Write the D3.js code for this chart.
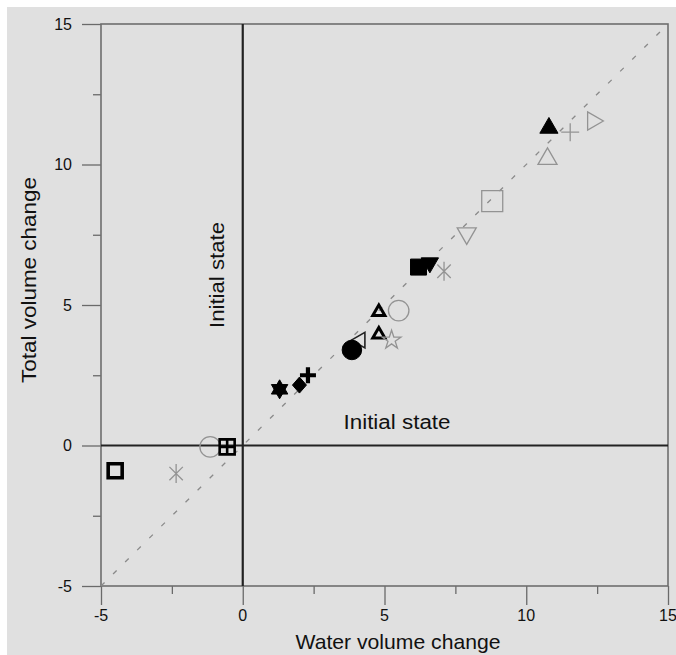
<!DOCTYPE html>
<html>
<head>
<meta charset="utf-8">
<script src="https://cdn.jsdelivr.net/npm/d3@7"></script>
<style>
  body { margin: 0; background: #fff; }
  svg { display: block; }
  text { font-family: "Liberation Sans", Arial, sans-serif; fill: #111; }
</style>
</head>
<body>
<div id="chart"></div>
<script>
// values
var waterChange = [-4.5, -2.35, -1.15, -0.55, 1.3, 2.0, 2.3, 4.15, 3.85, 4.8, 5.25, 4.8, 5.5, 6.2, 6.6, 7.1, 7.9, 8.8, 10.75, 10.8, 11.55, 12.35];
var totalChange = [-0.9, -1.0, -0.05, -0.05, 2.0, 2.15, 2.5, 3.75, 3.4, 3.95, 3.75, 4.75, 4.8, 6.35, 6.5, 6.2, 7.55, 8.7, 10.2, 11.3, 11.15, 11.55];
var markerKind = ["boldSquare", "grayAsterisk", "grayCircle", "squareCross", "hexagram", "diamond", "boldPlus", "leftTriangle", "dot",
  "boldTriangle", "grayStar", "boldTriangle", "grayCircle", "filledSquare", "filledDown", "grayAsterisk", "grayDown", "graySquare",
  "grayTriangle", "filledTriangle", "grayPlus", "grayRight"];
var axisTicks = [-5, 0, 5, 10, 15];
var minorTicks = [-2.5, 2.5, 7.5, 12.5];

var svgWidth = 676, svgHeight = 655;

var svg = d3.select("#chart").append("svg")
  .attr("width", svgWidth)
  .attr("height", svgHeight);

// scanned grey page
svg.append("rect")
  .attr("x", 7).attr("y", 7)
  .attr("width", svgWidth - 7).attr("height", svgHeight - 7)
  .attr("fill", "#e0e0e0");

var x = d3.scaleLinear().domain([-5, 15]).range([101, 668]);
var y = d3.scaleLinear().domain([-5, 15]).range([586, 24]);

// axes with long major ticks and short minor ticks
svg.append("g").attr("transform", "translate(0," + y(-5) + ")")
  .call(d3.axisBottom(x).tickValues(axisTicks).tickSize(19).tickFormat(""));
svg.append("g").attr("transform", "translate(0," + y(-5) + ")")
  .call(d3.axisBottom(x).tickValues(minorTicks).tickSize(8).tickFormat(""));
svg.append("g").attr("transform", "translate(" + x(-5) + ",0)")
  .call(d3.axisLeft(y).tickValues(axisTicks).tickSize(19).tickFormat(""));
svg.append("g").attr("transform", "translate(" + x(-5) + ",0)")
  .call(d3.axisLeft(y).tickValues(minorTicks).tickSize(8).tickFormat(""));

svg.selectAll(".domain").remove();
svg.selectAll(".tick line").attr("stroke", "#6a6a6a").attr("stroke-width", 1.3);

// frame
svg.append("rect")
  .attr("x", x(-5)).attr("y", y(15))
  .attr("width", x(15) - x(-5)).attr("height", y(-5) - y(15))
  .attr("fill", "none")
  .attr("stroke", "#6e6e6e")
  .attr("stroke-width", 1.6);

// tick labels
svg.append("g").selectAll("text")
  .data(axisTicks)
  .enter()
  .append("text")
  .attr("x", d => x(d))
  .attr("y", 615)
  .attr("text-anchor", "middle")
  .attr("dominant-baseline", "central")
  .attr("font-size", "16px")
  .text(d => d);

svg.append("g").selectAll("text")
  .data(axisTicks)
  .enter()
  .append("text")
  .attr("x", 72)
  .attr("y", d => y(d))
  .attr("text-anchor", "end")
  .attr("dominant-baseline", "central")
  .attr("font-size", "16px")
  .text(d => d);

// diagonal 1:1 line
svg.append("line")
  .attr("x1", x(-5)).attr("y1", y(-5))
  .attr("x2", x(15)).attr("y2", y(15))
  .attr("stroke", "#8a8a8a")
  .attr("stroke-width", 1.3)
  .attr("stroke-dasharray", "5,12");

// initial state lines
svg.append("line")
  .attr("x1", x(0)).attr("y1", y(15))
  .attr("x2", x(0)).attr("y2", y(-5))
  .attr("stroke", "#222").attr("stroke-width", 2.2);
svg.append("line")
  .attr("x1", x(-5)).attr("y1", y(0))
  .attr("x2", x(15)).attr("y2", y(0))
  .attr("stroke", "#222").attr("stroke-width", 2.2);

svg.append("text")
  .attr("transform", "translate(217,275) rotate(-90)")
  .attr("text-anchor", "middle")
  .attr("dominant-baseline", "central")
  .attr("font-size", "20px")
  .attr("textLength", 106)
  .attr("lengthAdjust", "spacingAndGlyphs")
  .text("Initial state");

svg.append("text")
  .attr("x", 397).attr("y", 422)
  .attr("text-anchor", "middle")
  .attr("dominant-baseline", "central")
  .attr("font-size", "20px")
  .attr("textLength", 107)
  .attr("lengthAdjust", "spacingAndGlyphs")
  .text("Initial state");

// axis titles
svg.append("text")
  .attr("x", 398).attr("y", 641)
  .attr("text-anchor", "middle")
  .attr("dominant-baseline", "central")
  .attr("font-size", "21px")
  .attr("textLength", 205)
  .attr("lengthAdjust", "spacingAndGlyphs")
  .text("Water volume change");

svg.append("text")
  .attr("transform", "translate(28,280) rotate(-90)")
  .attr("text-anchor", "middle")
  .attr("dominant-baseline", "central")
  .attr("font-size", "21px")
  .attr("textLength", 206)
  .attr("lengthAdjust", "spacingAndGlyphs")
  .text("Total volume change");

// custom marker shapes
function triPath(r, angle) {
  var p = d3.path();
  for (var i = 0; i < 3; i++) {
    var a = angle + i * 2 * Math.PI / 3;
    var px = r * Math.sin(a), py = -r * Math.cos(a);
    if (i === 0) p.moveTo(px, py); else p.lineTo(px, py);
  }
  p.closePath();
  return p.toString();
}

function linesPath(r, angles) {
  return angles.map(function(a) {
    var dx = r * Math.cos(a), dy = r * Math.sin(a);
    return "M" + (-dx) + "," + (-dy) + "L" + dx + "," + dy;
  }).join("");
}

var black = "#000", gray = "#939393";

var shapes = {
  boldSquare: { d: "M-7,-7H7V7H-7Z", fill: "none", stroke: black, w: 3.6 },
  squareCross: { d: "M-7.5,-7.5H7.5V7.5H-7.5ZM0,-7.5V7.5M-7.5,0H7.5", fill: "none", stroke: black, w: 2.6 },
  grayAsterisk: { d: linesPath(9.5, [Math.PI / 4, 3 * Math.PI / 4, Math.PI / 2]), fill: "none", stroke: gray, w: 1.3 },
  grayCircle: { d: d3.symbol(d3.symbolCircle, 330)(), fill: "none", stroke: gray, w: 1.3 },
  hexagram: { d: triPath(9.5, 0) + triPath(9.5, Math.PI), fill: black, stroke: black, w: 1 },
  diamond: { d: "M0,-8L7,0L0,8L-7,0Z", fill: black, stroke: black, w: 1 },
  boldPlus: { d: linesPath(8, [0, Math.PI / 2]), fill: "none", stroke: black, w: 4.2 },
  leftTriangle: { d: triPath(9, -Math.PI / 2), fill: "none", stroke: "#222", w: 1.6 },
  dot: { d: d3.symbol(d3.symbolCircle, 300)(), fill: black, stroke: black, w: 1 },
  boldTriangle: { d: triPath(7, 0), fill: "none", stroke: black, w: 3 },
  grayStar: { d: d3.symbol(d3.symbolStar, 110)(), fill: "none", stroke: gray, w: 1.3 },
  filledSquare: { d: "M-8,-8H8V8H-8Z", fill: black, stroke: black, w: 1 },
  filledDown: { d: triPath(10, Math.PI), fill: black, stroke: black, w: 1 },
  grayDown: { d: triPath(11, Math.PI), fill: "none", stroke: gray, w: 1.3 },
  graySquare: { d: "M-10.5,-10.5H10.5V10.5H-10.5Z", fill: "none", stroke: gray, w: 1.3 },
  grayTriangle: { d: triPath(11, 0), fill: "none", stroke: gray, w: 1.3 },
  filledTriangle: { d: triPath(10.5, 0), fill: black, stroke: black, w: 1 },
  grayPlus: { d: linesPath(9, [0, Math.PI / 2]), fill: "none", stroke: gray, w: 1.3 },
  grayRight: { d: triPath(10.5, Math.PI / 2), fill: "none", stroke: gray, w: 1.3 }
};

var points = waterChange.map(function(w, i) {
  return { water: w, total: totalChange[i], kind: markerKind[i] };
});

svg.append("g").selectAll("path")
  .data(points)
  .enter()
  .append("path")
  .attr("transform", d => "translate(" + x(d.water) + "," + y(d.total) + ")")
  .attr("d", d => shapes[d.kind].d)
  .attr("fill", d => shapes[d.kind].fill)
  .attr("stroke", d => shapes[d.kind].stroke)
  .attr("stroke-width", d => shapes[d.kind].w)
  .attr("stroke-linejoin", "miter");
</script>
</body>
</html>
